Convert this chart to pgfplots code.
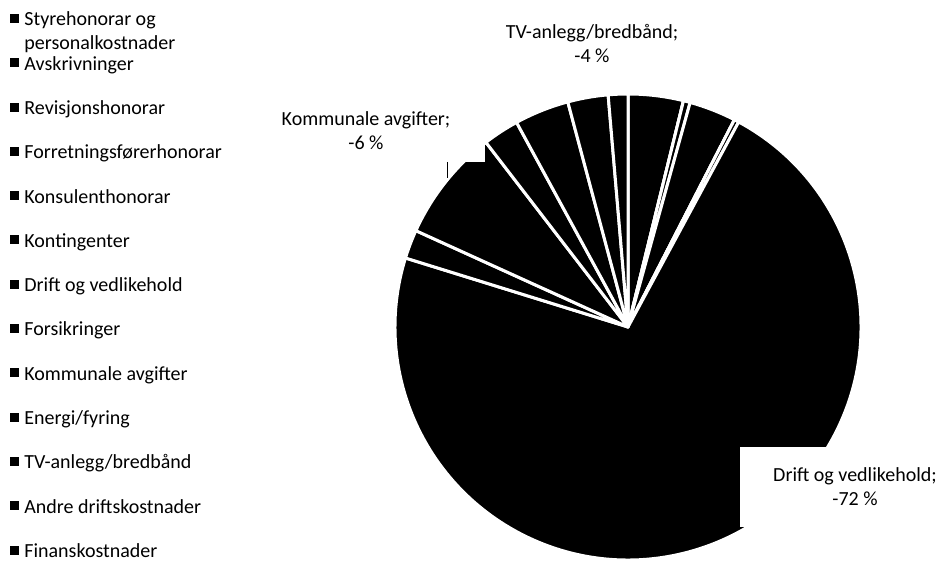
\documentclass[border=0pt]{standalone}
\usepackage{pgfplots}
\pgfplotsset{compat=1.18}
\usepackage{pgfplotstable}
\usepackage{fontspec}
\setmainfont{Carlito}
\newcommand{\chartfont}{\fontsize{20pt}{24pt}\selectfont}

% values as shares of the total cost (Excel pie, clockwise from 12 o'clock)
\pgfplotstableread[col sep=semicolon]{
name;value
Styrehonorar og personalkostnader;3.83
Avskrivninger;0
Revisjonshonorar;0.47
Forretningsførerhonorar;3.25
Konsulenthonorar;0
Kontingenter;0.33
Drift og vedlikehold;71.92
Forsikringer;2.0
Kommunale avgifter;7.78
Energi/fyring;2.5
TV-anlegg/bredbånd;3.78
Andre driftskostnader;2.8
Finanskostnader;1.36
}\piedata

\begin{document}
\begin{tikzpicture}
\begin{axis}[
  x=1pt, y=1pt, xmin=0, xmax=940, ymin=0, ymax=562,
  scale only axis, hide axis, clip=false,
  font=\chartfont,
  legend cell align=left,
  legend image code/.code={\fill[black] (0pt,-4pt) rectangle (8pt,4pt);},
  legend style={at={(axis cs:10,553)}, anchor=north west, draw=none, fill=none,
    inner sep=0pt, outer sep=0pt, row sep=26.0pt, column sep=6pt,
    font=\chartfont, nodes={inner sep=0pt, outer sep=0pt}},
]
\pgfplotstablegetrowsof{\piedata}
\pgfmathtruncatemacro\nrows{\pgfplotsretval-1}
\def\total{0}
\pgfplotsforeachungrouped \i in {0,...,\nrows}{%
  \pgfplotstablegetelem{\i}{value}\of\piedata
  \pgfmathsetmacro\total{\total+\pgfplotsretval}%
}
\def\cum{0}
\pgfplotsforeachungrouped \i in {0,...,\nrows}{%
  \pgfplotstablegetelem{\i}{value}\of\piedata
  \pgfmathsetmacro\sa{90-\cum/\total*360}%
  \pgfmathsetmacro\cum{\cum+\pgfplotsretval}%
  \pgfmathsetmacro\ea{90-\cum/\total*360}%
  \edef\slice{\noexpand\filldraw[fill=black,draw=white,line width=3pt,line join=round]
    (axis cs:628,235) -- ++(\sa:233pt) arc[start angle=\sa,end angle=\ea,radius=233pt] -- cycle;}%
  \slice
}
% data label boxes (white, as in the original)
\fill[white] (axis cs:740,115) rectangle (axis cs:940,35);
\fill[white] (axis cs:247,462) rectangle (axis cs:485,400);
\draw[black, line width=0.8pt] (axis cs:447,400) -- (axis cs:447,384);
\node[align=center, font=\chartfont] at (axis cs:855,75.5) {Drift og vedlikehold;\\-72 \%};
\node[align=center, font=\chartfont] at (axis cs:366,431.5) {Kommunale avgifter;\\-6 \%};
\node[align=center, font=\chartfont] at (axis cs:592,518.5) {TV-anlegg/bredbånd;\\-4 \%};

\addlegendimage{}\addlegendentry{\strut\smash{\parbox[t]{7cm}{Styrehonorar og\\personalkostnader}}}
\addlegendimage{}\addlegendentry{\strut Avskrivninger}
\addlegendimage{}\addlegendentry{\strut Revisjonshonorar}
\addlegendimage{}\addlegendentry{\strut Forretningsførerhonorar}
\addlegendimage{}\addlegendentry{\strut Konsulenthonorar}
\addlegendimage{}\addlegendentry{\strut Kontingenter}
\addlegendimage{}\addlegendentry{\strut Drift og vedlikehold}
\addlegendimage{}\addlegendentry{\strut Forsikringer}
\addlegendimage{}\addlegendentry{\strut Kommunale avgifter}
\addlegendimage{}\addlegendentry{\strut Energi/fyring}
\addlegendimage{}\addlegendentry{\strut TV-anlegg/bredbånd}
\addlegendimage{}\addlegendentry{\strut Andre driftskostnader}
\addlegendimage{}\addlegendentry{\strut Finanskostnader}
\end{axis}
\pgfresetboundingbox
\useasboundingbox (0,0) rectangle (940pt,562pt);
\end{tikzpicture}
\end{document}
